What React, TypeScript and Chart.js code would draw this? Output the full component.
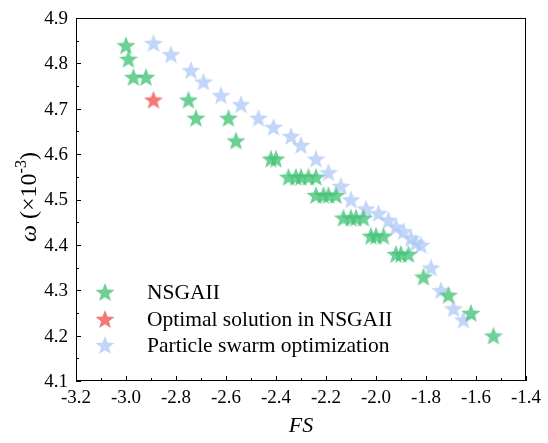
import React, { useEffect, useRef } from "react";
import { Chart, registerables } from "chart.js";
Chart.register(...registerables);

const nsgaX = [-3.0, -2.99, -2.97, -2.92, -2.75, -2.72, -2.59, -2.56, -2.42, -2.4,
  -2.35, -2.32, -2.3, -2.27, -2.24,
  -2.24, -2.21, -2.19, -2.16,
  -2.13, -2.1, -2.08, -2.05,
  -2.02, -2.0, -1.97,
  -1.92, -1.9, -1.87,
  -1.81, -1.71, -1.62, -1.53];
const nsgaY = [4.84, 4.81, 4.77, 4.77, 4.72, 4.68, 4.68, 4.63, 4.59, 4.59,
  4.55, 4.55, 4.55, 4.55, 4.55,
  4.51, 4.51, 4.51, 4.51,
  4.46, 4.46, 4.46, 4.46,
  4.42, 4.42, 4.42,
  4.38, 4.38, 4.38,
  4.33, 4.29, 4.25, 4.2];
const optX = [-2.89];
const optY = [4.72];
const psoX = [-2.89, -2.82, -2.74, -2.69, -2.62, -2.54, -2.47, -2.41, -2.34, -2.3, -2.24, -2.19, -2.14, -2.1, -2.04, -1.99, -1.95, -1.92, -1.89, -1.86, -1.84, -1.82, -1.78, -1.74, -1.69, -1.65];
const psoY = [4.845, 4.82, 4.785, 4.76, 4.73, 4.71, 4.68, 4.66, 4.64, 4.62, 4.59, 4.56, 4.53, 4.5, 4.48, 4.47, 4.455, 4.44, 4.43, 4.415, 4.405, 4.4, 4.35, 4.3, 4.26, 4.235];
const seriesNames = ["NSGAII", "Optimal solution in NSGAII", "Particle swarm optimization"];
const seriesColors = ["rgba(72,196,122,0.8)", "rgba(242,96,96,0.85)", "rgba(172,200,246,0.75)"];

function makeStar(color: string, R: number): HTMLCanvasElement {
  const c = document.createElement("canvas");
  const s = Math.ceil(R * 2 + 2);
  c.width = s; c.height = s;
  const ctx = c.getContext("2d")!;
  const cx = s / 2, cy = s / 2 + R * 0.1;
  const r = R * 0.42;
  ctx.beginPath();
  for (let i = 0; i < 10; i++) {
    const a = -Math.PI / 2 + (i * Math.PI) / 5;
    const rr = i % 2 === 0 ? R : r;
    const x = cx + rr * Math.cos(a), y = cy + rr * Math.sin(a);
    if (i === 0) ctx.moveTo(x, y); else ctx.lineTo(x, y);
  }
  ctx.closePath();
  ctx.fillStyle = color;
  ctx.fill();
  return c;
}

const pts = (xs: number[], ys: number[]) => xs.map((x, i) => ({ x, y: ys[i] }));

export default function App() {
  const ref = useRef<HTMLCanvasElement>(null);
  useEffect(() => {
    document.body.style.margin = "0";
    const serif = "'Liberation Serif', 'Times New Roman', serif";
    const stars = seriesColors.map((c) => makeStar(c, 10));
    const legendStars = seriesColors.map((c) => makeStar(c, 10));
    const framePlugin = {
      id: "frame",
      afterDraw(chart: any) {
        const ctx = chart.ctx;
        const { left, right, top, bottom } = chart.chartArea;
        const xs = chart.scales.x, ys = chart.scales.y;
        ctx.save();
        ctx.strokeStyle = "#000";
        ctx.lineWidth = 1;
        ctx.strokeRect(left + 0.5, top + 0.5, right - left - 1, bottom - top - 1);
        ctx.beginPath();
        for (let i = 0; i <= 18; i++) {
          const v = -3.2 + i * 0.1;
          const px = Math.round(xs.getPixelForValue(v)) + 0.5;
          const len = i % 2 === 0 ? 5 : 3;
          ctx.moveTo(px, bottom);
          ctx.lineTo(px, bottom - len);
        }
        for (let i = 0; i <= 16; i++) {
          const v = 4.1 + i * 0.05;
          const py = Math.round(ys.getPixelForValue(v)) + 0.5;
          const len = i % 2 === 0 ? 5 : 3;
          ctx.moveTo(left, py);
          ctx.lineTo(left + len, py);
        }
        ctx.stroke();
        // tick labels from the scales' ticks
        ctx.fillStyle = "#000";
        ctx.font = `19px ${serif}`;
        ctx.textAlign = "center";
        ctx.textBaseline = "middle";
        xs.ticks.forEach((t: any) => {
          ctx.fillText(Number(t.value).toFixed(1), xs.getPixelForValue(t.value), 398);
        });
        ctx.textAlign = "right";
        ys.ticks.forEach((t: any) => {
          ctx.fillText(Number(t.value).toFixed(1), 68, ys.getPixelForValue(t.value) + 1);
        });
        // x title
        ctx.font = `italic 22px ${serif}`;
        ctx.textAlign = "center";
        ctx.fillText("FS", (left + right) / 2, 426);
        // y title
        ctx.translate(28, 197);
        ctx.rotate(-Math.PI / 2);
        const p1 = "ω", p2 = " (×10", p3 = "-3", p4 = ")";
        ctx.font = `italic 24px ${serif}`;
        const w1 = ctx.measureText(p1).width;
        ctx.font = `24px ${serif}`;
        const w2 = ctx.measureText(p2).width;
        const w4 = ctx.measureText(p4).width;
        ctx.font = `16px ${serif}`;
        const w3 = ctx.measureText(p3).width;
        let x = -(w1 + w2 + w3 + w4) / 2;
        ctx.textAlign = "left";
        ctx.textBaseline = "alphabetic";
        ctx.font = `italic 24px ${serif}`;
        ctx.fillText(p1, x, 8); x += w1;
        ctx.font = `24px ${serif}`;
        ctx.fillText(p2, x, 8); x += w2;
        ctx.font = `16px ${serif}`;
        ctx.fillText(p3, x, -2); x += w3;
        ctx.font = `24px ${serif}`;
        ctx.fillText(p4, x, 8);
        ctx.restore();
        // legend
        ctx.save();
        ctx.font = `21.5px ${serif}`;
        ctx.fillStyle = "#000";
        ctx.textAlign = "left";
        ctx.textBaseline = "middle";
        const rowsY = [292, 319, 345];
        seriesNames.forEach((n, i) => {
          const st = legendStars[i];
          ctx.drawImage(st, 105 - st.width / 2, rowsY[i] - st.height / 2);
          ctx.fillText(n, 147, rowsY[i] + 1);
        });
        ctx.restore();
      },
    };
    const chart = new Chart(ref.current!, {
      type: "scatter",
      data: {
        datasets: [
          { label: seriesNames[0], data: pts(nsgaX, nsgaY), pointStyle: stars[0] as any, backgroundColor: seriesColors[0] },
          { label: seriesNames[1], data: pts(optX, optY), pointStyle: stars[1] as any, backgroundColor: seriesColors[1] },
          { label: seriesNames[2], data: pts(psoX, psoY), pointStyle: stars[2] as any, backgroundColor: seriesColors[2] },
        ],
      },
      options: {
        animation: false,
        responsive: false,
        layout: { padding: { top: 18, right: 22, left: 0, bottom: 0 } },
        plugins: { legend: { display: false }, tooltip: { enabled: false } },
        scales: {
          x: {
            type: "linear", min: -3.2, max: -1.4,
            grid: { display: false, drawTicks: false }, border: { display: false },
            ticks: { stepSize: 0.2, display: false },
            afterFit: (s: any) => { s.height = 62; },
          },
          y: {
            type: "linear", min: 4.1, max: 4.9,
            grid: { display: false, drawTicks: false }, border: { display: false },
            ticks: { stepSize: 0.1, display: false },
            afterFit: (s: any) => { s.width = 76; },
          },
        },
      },
      plugins: [framePlugin],
    });
    return () => chart.destroy();
  }, []);
  return (
    <div style={{ width: 548, height: 443 }}>
      <canvas ref={ref} width={548} height={443} />
    </div>
  );
}
